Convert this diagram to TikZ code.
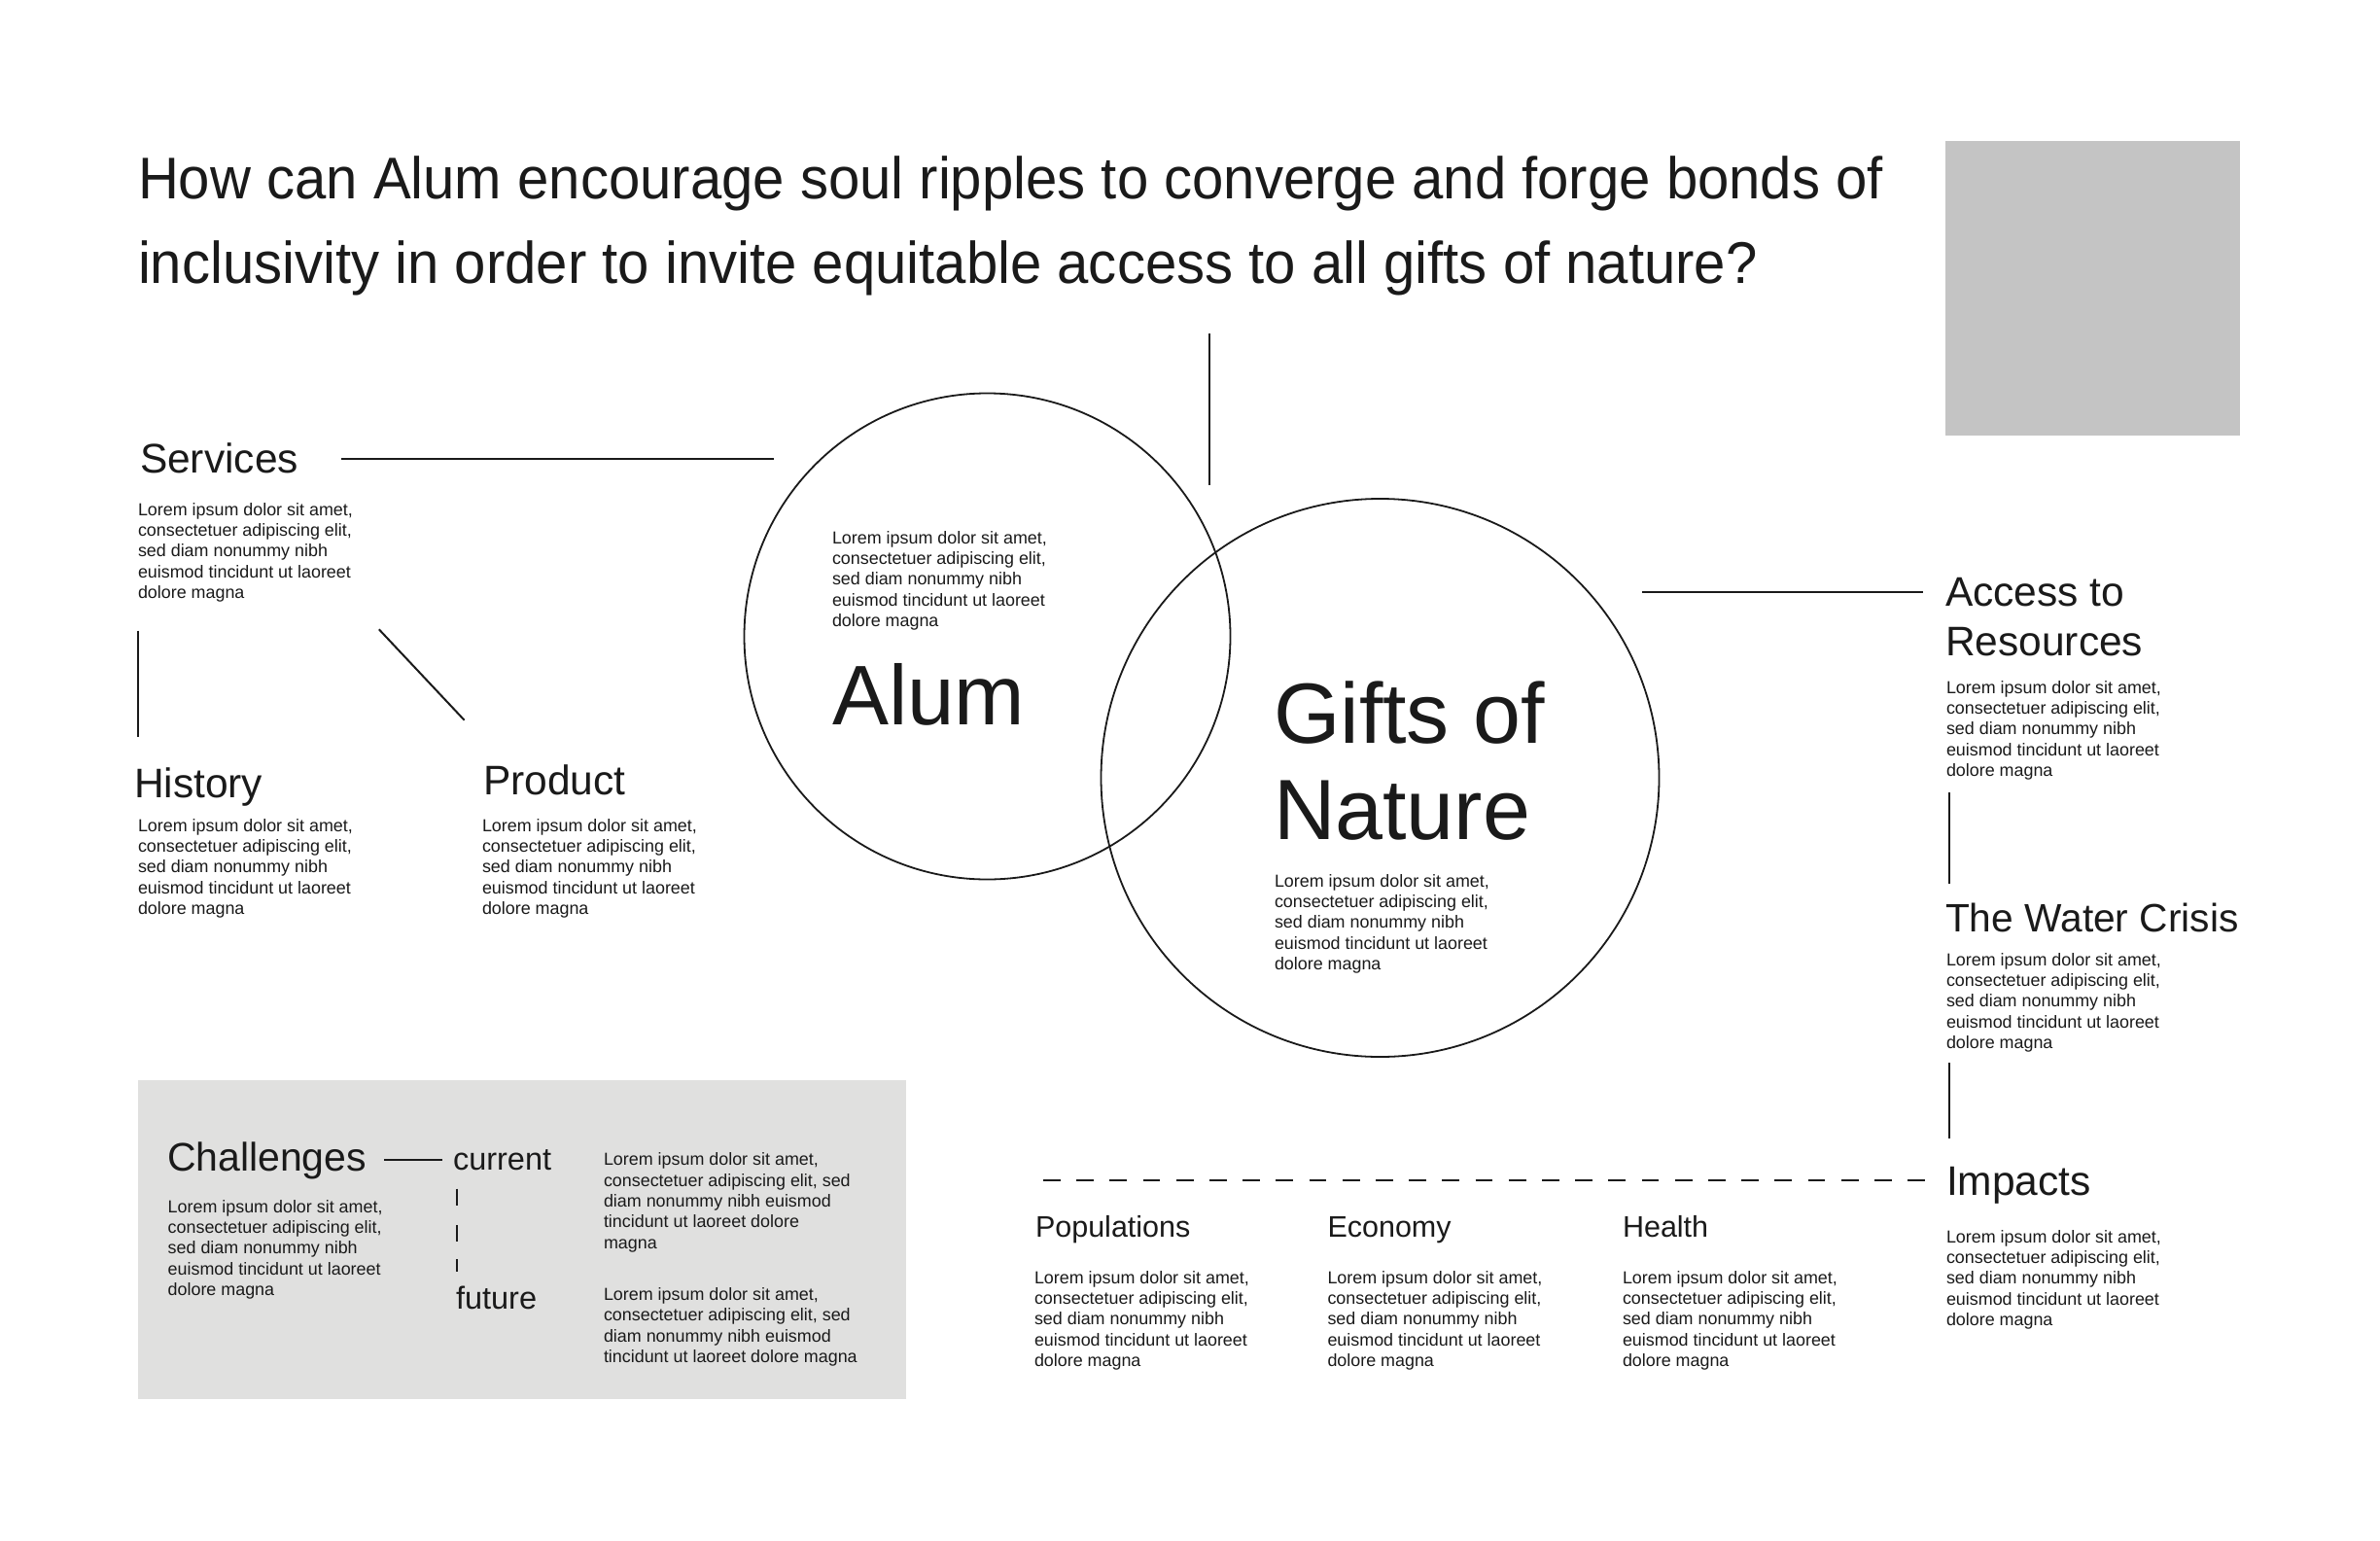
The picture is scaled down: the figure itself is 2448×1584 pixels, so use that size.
\documentclass[tikz,border=0pt]{standalone}
\usepackage{fontspec}
\setmainfont{Liberation Sans}
\newfontfamily\titlefont[FakeStretch=0.96]{Liberation Sans}
\definecolor{ink}{HTML}{1A1A1A}
\definecolor{boxgray}{HTML}{C4C4C4}
\definecolor{panelgray}{HTML}{E0E0DF}
\newcommand{\lorem}{Lorem ipsum dolor sit amet,\\consectetuer adipiscing elit,\\sed diam nonummy nibh\\euismod tincidunt ut laoreet\\dolore magna}
\begin{document}
\begin{tikzpicture}[x=1pt,y=-1pt,
  txt/.style={anchor=base west, inner sep=0pt, outer sep=0pt, align=left, text=ink},
  titletext/.style={txt, font=\titlefont\fontsize{60.5}{87.7}\selectfont},
  bodytext/.style={txt, font=\fontsize{17.9}{21.4}\selectfont},
  headtext/.style={txt, font=\fontsize{42.5}{51}\selectfont},
  bigtext/.style={txt, font=\fontsize{88}{99}\selectfont},
  subhead/.style={txt, font=\fontsize{30.5}{36}\selectfont},
  smallhead/.style={txt, font=\fontsize{32.5}{38}\selectfont},
  rule/.style={draw=ink, line width=2pt},
  ring/.style={circle, draw=ink, line width=1.8pt, inner sep=0pt, outer sep=0pt},
  dashrule/.style={draw=ink, line width=2pt, dash pattern=on 17.7pt off 16.5pt}
]
\useasboundingbox (0,0) rectangle (2448,1584);
\fill[white] (0,0) rectangle (2448,1584);

% (multi-line nodes: base anchor = baseline of the last line)

% title
\node[titletext] (title) at (142,291.7) {How can Alum encourage soul ripples to converge and forge bonds of\\inclusivity in order to invite equitable access to all gifts of nature?};

% image placeholder
\node[fill=boxgray, anchor=north west, inner sep=0pt, minimum width=303pt, minimum height=303pt] (img) at (2001,145) {};

% challenges panel
\node[fill=panelgray, anchor=north west, inner sep=0pt, minimum width=790pt, minimum height=328pt] (panel) at (142,1111) {};

% circles
\node[ring, minimum size=500pt] (alumc) at (1015.5,654.5) {};
\node[ring, minimum size=574pt] (giftc) at (1419.5,800) {};

% left cluster
\node[headtext] (svc) at (144,486) {Services};
\node[bodytext] (svcb) at (142,615.6) {\lorem};
\node[headtext] (hist) at (138,820) {History};
\node[bodytext] (histb) at (142,940.6) {\lorem};
\node[headtext] (prod) at (497,817.5) {Product};
\node[bodytext] (prodb) at (496,940.6) {\lorem};

% circle texts
\node[bodytext] (alumb) at (856,644.6) {\lorem};
\node[txt, font=\fontsize{87}{99}\selectfont] (alum) at (856,745) {Alum};
\node[bigtext] (gifts) at (1310,863) {Gifts of\\Nature};
\node[bodytext] (giftsb) at (1311,997.6) {\lorem};

% right column
\node[headtext] (acc) at (2001,674.3) {Access to\\Resources};
\node[bodytext] (accb) at (2002,798.6) {\lorem};
\node[txt, font=\fontsize{40.7}{49}\selectfont] (water) at (2001,958.6) {The Water Crisis};
\node[bodytext] (waterb) at (2002,1078.6) {\lorem};
\node[headtext] (imp) at (2002,1229) {Impacts};
\node[bodytext] (impb) at (2002,1363.6) {\lorem};

% impacts row
\node[subhead] (pop) at (1065,1272.7) {Populations};
\node[bodytext] (popb) at (1064,1405.6) {\lorem};
\node[subhead] (eco) at (1365.5,1272.7) {Economy};
\node[bodytext] (ecob) at (1365.5,1405.6) {\lorem};
\node[subhead] (health) at (1669,1272.7) {Health};
\node[bodytext] (healthb) at (1669,1405.6) {\lorem};

% challenges
\node[txt, font=\fontsize{41}{48}\selectfont] (chal) at (172,1204) {Challenges};
\node[bodytext] (chalb) at (172.7,1332.6) {\lorem};
\node[smallhead] (cur) at (466,1203.3) {current};
\node[smallhead] (fut) at (469,1346.7) {future};
\node[bodytext] (curb) at (621,1284.3) {Lorem ipsum dolor sit amet,\\consectetuer adipiscing elit, sed\\diam nonummy nibh euismod\\tincidunt ut laoreet dolore\\magna};
\node[bodytext] (futb) at (621,1401.7) {Lorem ipsum dolor sit amet,\\consectetuer adipiscing elit, sed\\diam nonummy nibh euismod\\tincidunt ut laoreet dolore magna};

% connector end points
\coordinate (topA) at (1244,342.5);
\coordinate (topB) at (1244,498.5);
\coordinate (svcA) at (351,471.7);
\coordinate (svcB) at (796,471.7);
\coordinate (histA) at (142,648.7);
\coordinate (histB) at (142,758);
\coordinate (prodA) at (389.8,647.3);
\coordinate (prodB) at (477.6,740.7);
\coordinate (accA) at (1689,609);
\coordinate (accB) at (1978,609);
\coordinate (wA) at (2005,815);
\coordinate (wB) at (2005,909);
\coordinate (iA) at (2005,1093);
\coordinate (iB) at (2005,1171);
\coordinate (dA) at (1073,1214);
\coordinate (dB) at (1980,1214);
\coordinate (cA) at (395,1193.3);
\coordinate (cB) at (455,1193.3);
\coordinate (t1a) at (470,1222.7);
\coordinate (t1b) at (470,1240);
\coordinate (t2a) at (470,1260);
\coordinate (t2b) at (470,1277);
\coordinate (t3a) at (470,1295);
\coordinate (t3b) at (470,1308);

\draw[rule] (topA) -- (topB);
\draw[rule] (svcA) -- (svcB);
\draw[rule] (histA) -- (histB);
\draw[rule] (prodA) -- (prodB);
\draw[rule] (accA) -- (accB);
\draw[rule] (wA) -- (wB);
\draw[rule] (iA) -- (iB);
\draw[dashrule] (dA) -- (dB);
\draw[rule] (cA) -- (cB);
\draw[rule] (t1a) -- (t1b);
\draw[rule] (t2a) -- (t2b);
\draw[rule] (t3a) -- (t3b);
\end{tikzpicture}
\end{document}
